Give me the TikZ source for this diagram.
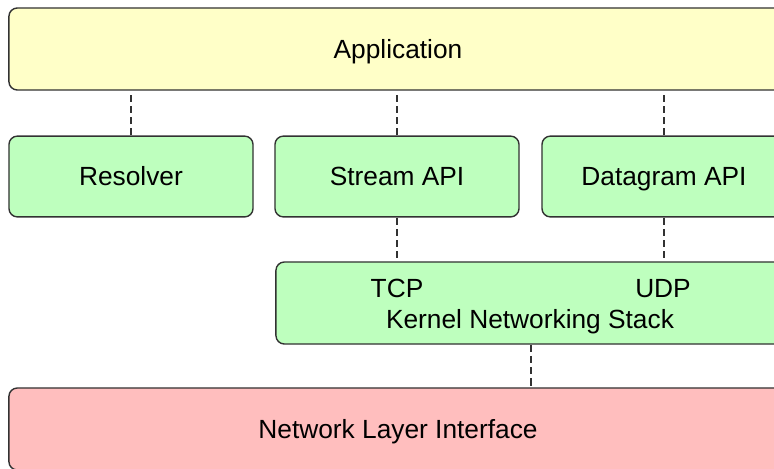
\documentclass[tikz,border=0pt]{standalone}
\usepackage{fontspec}
\setmainfont{Liberation Sans}
\usepackage{tikz}
\usetikzlibrary{positioning,calc}
\definecolor{appyellow}{RGB}{255,255,200}
\definecolor{apigreen}{RGB}{190,255,190}
\definecolor{netred}{RGB}{255,190,190}
\definecolor{edgegray}{RGB}{50,50,50}
\tikzset{
	every node/.style={text height=13.4pt, text depth=0pt},
	layer/.style={draw=edgegray, line width=1pt, rounded corners=6pt, minimum height=2.05cm, inner sep=0pt},
	link/.style={draw=edgegray, line width=0.8pt, dash pattern=on 5pt off 3pt}
}
\begin{document}
\begin{tikzpicture}[x=0.025cm, y=-0.025cm, font=\fontsize{18.7}{22}\selectfont]
	\useasboundingbox (0,0) rectangle (774,468);
	\clip (0,0) rectangle (774,468);
	\node[layer, fill=appyellow, minimum width=19.45cm] (app) at (398,49) {Application};
	\node[layer, fill=apigreen, minimum width=6.1cm, minimum height=2.02cm] (res) at (131,176.5) {Resolver};
	\node[layer, fill=apigreen, minimum width=6.1cm, minimum height=2.02cm] (stream) at (397,176.5) {Stream API};
	\node[layer, fill=apigreen, minimum width=6.1cm, minimum height=2.02cm] (dgram) at (664,176.5) {Datagram API};
	\node[layer, fill=apigreen, minimum width=12.75cm] (kernel) at (531,303) {};
	\node (tcp) at (397,288) {TCP};
	\node (udp) at (663,288) {UDP};
	\node (stack) at (530,319) {Kernel Networking Stack};
	\node[layer, fill=netred, minimum width=19.45cm] (net) at (398,429) {Network Layer Interface};
	\draw[link] (res.north) -- (res.north |- app.south);
	\draw[link] (stream.north) -- (stream.north |- app.south);
	\draw[link] (dgram.north) -- (dgram.north |- app.south);
	\draw[link] (stream.south) -- (stream.south |- kernel.north);
	\draw[link] (dgram.south) -- (dgram.south |- kernel.north);
	\draw[link] (kernel.south) -- (kernel.south |- net.north);
\end{tikzpicture}
\end{document}
